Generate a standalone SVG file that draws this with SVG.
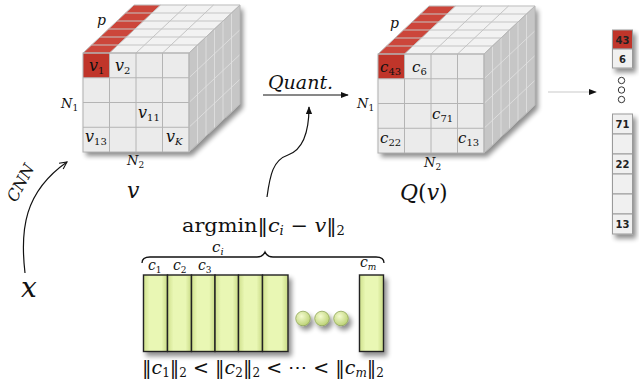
<svg xmlns="http://www.w3.org/2000/svg" width="640" height="384" viewBox="0 0 640 384">
<style>
.m{font-family:"DejaVu Serif","Liberation Serif",serif;font-style:italic;fill:#111}
.r{font-family:"DejaVu Serif","Liberation Serif",serif;fill:#111}
.sub{font-style:normal}
.fl{stroke:#b4b4b4;stroke-width:1;fill:none}
.tl{stroke:#c4c4c4;stroke-width:1;fill:none}
.sl{stroke:#e2e2e2;stroke-width:0.8;fill:none}
.vc{fill:#f0f0f0;stroke:#9a9a9a;stroke-width:1}
.vt{font-family:"DejaVu Sans",sans-serif;font-weight:bold;font-size:10px;fill:#222;text-anchor:middle}
.bar{fill:url(#bg);stroke:#222;stroke-width:1.4}
.conn{fill:none;stroke:#111;stroke-width:1.2}
</style>
<defs>
<filter id="sh" x="-20%" y="-20%" width="150%" height="150%">
<feGaussianBlur in="SourceAlpha" stdDeviation="2.5"/>
<feOffset dx="3" dy="4" result="b"/>
<feComponentTransfer><feFuncA type="linear" slope="0.45"/></feComponentTransfer>
<feMerge><feMergeNode/><feMergeNode in="SourceGraphic"/></feMerge>
</filter>
<linearGradient id="bg" x1="0" y1="0" x2="1" y2="0">
<stop offset="0" stop-color="#cfe08c"/>
<stop offset="0.25" stop-color="#e9f7b4"/>
<stop offset="0.75" stop-color="#e9f7b4"/>
<stop offset="1" stop-color="#c8da84"/>
</linearGradient>
<radialGradient id="cg" cx="0.4" cy="0.35" r="0.7">
<stop offset="0" stop-color="#f4fbd0"/>
<stop offset="1" stop-color="#b9d070"/>
</radialGradient>
<marker id="ah" viewBox="0 0 10 10" refX="9" refY="5" markerWidth="8" markerHeight="8" orient="auto" markerUnits="userSpaceOnUse">
<path d="M0,1 L10,5 L0,9 z" fill="#111"/>
</marker>
<marker id="ao" viewBox="0 0 10 10" refX="9" refY="5" markerWidth="9" markerHeight="9" orient="auto" markerUnits="userSpaceOnUse">
<path d="M1,1 L9,5 L1,9" fill="none" stroke="#111" stroke-width="1.2"/>
</marker>
<g id="cube">
<g filter="url(#sh)">
<rect x="83" y="53" width="106" height="99" fill="#ebebeb"/>
<polygon points="83,53 189,53 240,5 134,5" fill="#f2f2f2"/>
<polygon points="189,53 240,5 240,104 189,152" fill="#c6c6c6"/>
</g>
<polygon points="83,53 109.5,53 160.5,5 134,5" fill="#cc463b"/>
<rect x="83" y="53" width="26.5" height="24.75" fill="#c0352a"/>
<path class="fl" d="M109.5,53V152M136,53V152M162.5,53V152M83,77.75H189M83,102.5H189M83,127.25H189"/>
<path class="tl" d="M91.5,45H197.5M100,37H206M108.5,29H214.5M117,21H223M125.5,13H231.5M109.5,53L160.5,5M136,53L187,5M162.5,53L213.5,5"/>
<path class="sl" d="M197.5,45V144M206,37V136M214.5,29V128M223,21V120M231.5,13V112M189,77.75L240,29.75M189,102.5L240,54.5M189,127.25L240,79.25"/>
<polygon points="83,53 189,53 240,5 134,5" fill="none" stroke="#bdbdbd" stroke-width="1"/>
<rect x="83" y="53" width="106" height="99" fill="none" stroke="#b0b0b0" stroke-width="1"/>
<polygon points="189,53 240,5 240,104 189,152" fill="none" stroke="#b8b8b8" stroke-width="1"/>
</g>
</defs>

<g id="cube-v">
<use href="#cube"/>
<text class="m" x="89" y="71" font-size="16">v<tspan class="sub" font-size="10" dy="3">1</tspan></text>
<text class="m" x="115" y="71" font-size="16">v<tspan class="sub" font-size="10" dy="3">2</tspan></text>
<text class="m" x="138" y="118" font-size="16">v<tspan class="sub" font-size="10" dy="3">11</tspan></text>
<text class="m" x="85" y="142" font-size="16">v<tspan class="sub" font-size="10" dy="3">13</tspan></text>
<text class="m" x="166" y="142" font-size="16">v<tspan font-size="10" dy="3">K</tspan></text>
<text class="m" x="97" y="25" font-size="14">p</text>
<text class="m" x="61" y="108" font-size="13">N<tspan class="sub" font-size="9" dy="3">1</tspan></text>
<text class="m" x="127" y="165" font-size="13">N<tspan class="sub" font-size="9" dy="3">2</tspan></text>
<text class="m" x="127" y="198" font-size="22">v</text>
</g>

<g id="cube-q">
<use href="#cube" transform="translate(295,1)"/>
<text class="m" x="380" y="72" font-size="15">c<tspan class="sub" font-size="10" dy="3">43</tspan></text>
<text class="m" x="412" y="72" font-size="15">c<tspan class="sub" font-size="10" dy="3">6</tspan></text>
<text class="m" x="432" y="119" font-size="15">c<tspan class="sub" font-size="10" dy="3">71</tspan></text>
<text class="m" x="380" y="143" font-size="15">c<tspan class="sub" font-size="10" dy="3">22</tspan></text>
<text class="m" x="458" y="143" font-size="15">c<tspan class="sub" font-size="10" dy="3">13</tspan></text>
<text class="m" x="390" y="28" font-size="14">p</text>
<text class="m" x="357" y="108" font-size="13">N<tspan class="sub" font-size="9" dy="3">1</tspan></text>
<text class="m" x="424" y="167" font-size="13">N<tspan class="sub" font-size="9" dy="3">2</tspan></text>
<text class="m" x="400" y="200" font-size="22">Q<tspan font-style="normal">(</tspan>v<tspan font-style="normal">)</tspan></text>
</g>

<g id="vector">
<g filter="url(#sh)">
<rect x="612.5" y="30" width="20" height="19" fill="#c0352a" stroke="#9a9a9a"/>
<rect class="vc" x="612.5" y="49" width="20" height="19"/>
<rect class="vc" x="612.5" y="114" width="20" height="20"/>
<rect class="vc" x="612.5" y="134" width="20" height="20"/>
<rect class="vc" x="612.5" y="154" width="20" height="20"/>
<rect class="vc" x="612.5" y="174" width="20" height="20"/>
<rect class="vc" x="612.5" y="194" width="20" height="20"/>
<rect class="vc" x="612.5" y="214" width="20" height="20"/>
</g>
<text class="vt" x="622.5" y="43.5">43</text>
<text class="vt" x="622.5" y="62.5">6</text>
<text class="vt" x="622.5" y="128">71</text>
<text class="vt" x="622.5" y="168">22</text>
<text class="vt" x="622.5" y="228">13</text>
<circle cx="621.5" cy="80.5" r="3.2" fill="#fff" stroke="#333" stroke-width="1"/>
<circle cx="621.5" cy="90" r="3.2" fill="#fff" stroke="#333" stroke-width="1"/>
<circle cx="621.5" cy="99.5" r="3.2" fill="#fff" stroke="#333" stroke-width="1"/>
</g>

<g id="codebook">
<g filter="url(#sh)">
<rect class="bar" x="143.5" y="275" width="24" height="76.5"/>
<rect class="bar" x="167.5" y="275" width="24" height="76.5"/>
<rect class="bar" x="191.5" y="275" width="23.5" height="76.5"/>
<rect class="bar" x="215" y="275" width="23.5" height="76.5"/>
<rect class="bar" x="238.5" y="275" width="24" height="76.5"/>
<rect class="bar" x="262.5" y="275" width="25.5" height="76.5"/>
<rect class="bar" x="359.5" y="275" width="24" height="76.5"/>
<circle cx="303" cy="318.5" r="7.3" fill="url(#cg)" stroke="#8fa55a" stroke-width="0.8"/>
<circle cx="322" cy="318.5" r="7.3" fill="url(#cg)" stroke="#8fa55a" stroke-width="0.8"/>
<circle cx="341" cy="318.5" r="7.3" fill="url(#cg)" stroke="#8fa55a" stroke-width="0.8"/>
</g>
<path d="M142,263 Q142,257 150,257 L257,257 Q263,257 265,252 Q267,257 273,257 L376,257 Q384,257 384,263" fill="none" stroke="#111" stroke-width="1.3"/>
<text class="m" x="212" y="252" font-size="15">c<tspan font-size="10" dy="3">i</tspan></text>
<text class="m" x="148" y="270" font-size="14">c<tspan class="sub" font-size="9" dy="3">1</tspan></text>
<text class="m" x="173" y="270" font-size="14">c<tspan class="sub" font-size="9" dy="3">2</tspan></text>
<text class="m" x="198" y="270" font-size="14">c<tspan class="sub" font-size="9" dy="3">3</tspan></text>
<text class="m" x="360" y="267" font-size="14">c<tspan font-size="9" dy="3">m</tspan></text>
<text class="r" x="182" y="232" font-size="19" textLength="163" lengthAdjust="spacingAndGlyphs">argmin‖<tspan font-style="italic">c</tspan><tspan font-style="italic" font-size="12" dy="3">i</tspan><tspan dy="-3"> − </tspan><tspan font-style="italic">v</tspan>‖<tspan font-size="12" dy="3">2</tspan></text>
<text class="r" x="142" y="374" font-size="19" textLength="242" lengthAdjust="spacingAndGlyphs">‖<tspan font-style="italic">c</tspan><tspan font-size="12" dy="3">1</tspan><tspan dy="-3">‖</tspan><tspan font-size="12" dy="3">2</tspan><tspan dy="-3"> &lt; ‖</tspan><tspan font-style="italic">c</tspan><tspan font-size="12" dy="3">2</tspan><tspan dy="-3">‖</tspan><tspan font-size="12" dy="3">2</tspan><tspan dy="-3"> &lt; ⋯ &lt; ‖</tspan><tspan font-style="italic">c</tspan><tspan font-style="italic" font-size="12" dy="3">m</tspan><tspan dy="-3">‖</tspan><tspan font-size="12" dy="3">2</tspan></text>
</g>

<g id="input">
<text class="m" x="21" y="297" font-size="28">x</text>
</g>

<g id="connectors">
<path class="conn" d="M25,273 C20,230 24,192 67,162" marker-end="url(#ao)"/>
<text class="m" x="21" y="188" font-size="16" text-anchor="middle" transform="rotate(-62 21 183)">CNN</text>
<line x1="263" y1="95" x2="348" y2="95" stroke="#111" stroke-width="1" marker-end="url(#ah)"/>
<text class="m" x="268" y="89" font-size="19">Quant.</text>
<path class="conn" d="M267,197 C270,175 273,160 288,155 C302,150 309,135 309,107" marker-end="url(#ah)"/>
<line x1="548" y1="92" x2="596" y2="92" stroke="#bbb" stroke-width="0.8" marker-end="url(#ah)"/>
</g>
</svg>
